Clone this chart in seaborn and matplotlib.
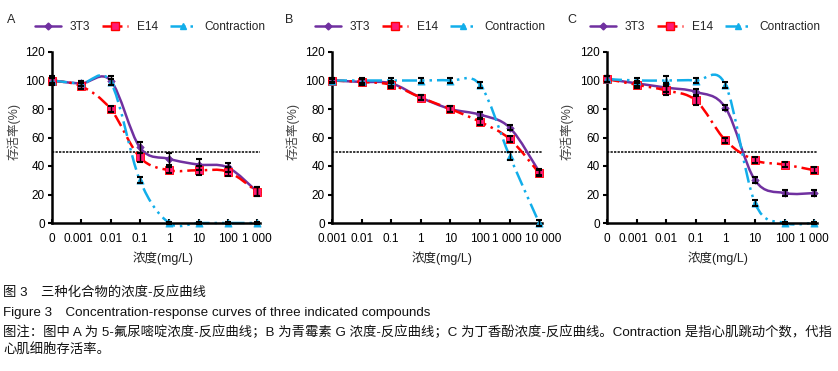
import numpy as np
import pandas as pd
import seaborn as sns
import matplotlib.pyplot as plt
from matplotlib.path import Path
from matplotlib.patches import PathPatch
from matplotlib.lines import Line2D
from matplotlib.transforms import ScaledTranslation

# =====================================
# 数据
# =====================================
series = ["3T3", "E14", "Contraction"]

# A: 5-氟尿嘧啶
ticks_A = ["0", "0.001", "0.01", "0.1", "1", "10", "100", "1 000"]
A_3T3 = [100, 98, 100, 53, 45, 41, 39, 22]
A_E14 = [100, 96, 80, 46, 37, 37, 36, 22]
A_con = [100, 98, 99, 30, 0, 0, 0, 0]
A_3T3_err = [3, 2, 3, 4, 4, 4, 3, 3]
A_E14_err = [2, 2, 2, 3, 2, 3, 3, 3]
A_con_err = [2, 2, 2, 2, 1, 1, 1, 1]

# B: 青霉素 G
ticks_B = ["0.001", "0.01", "0.1", "1", "10", "100", "1 000", "10 000"]
B_3T3 = [100, 99, 98, 88, 80, 76, 67, 36]
B_E14 = [100, 99, 97, 88, 80, 71, 59, 35]
B_con = [100, 100, 100, 100, 100, 97, 47, 0]
B_3T3_err = [2, 2, 2, 2, 2, 2, 2, 2]
B_E14_err = [2, 2, 2, 2, 2, 2, 2, 2]
B_con_err = [1, 2, 2, 2, 2, 2, 3, 2]

# C: 丁香酚
ticks_C = ["0", "0.001", "0.01", "0.1", "1", "10", "100", "1 000"]
C_3T3 = [101, 98, 95, 92, 81, 30, 21, 21]
C_E14 = [101, 97, 93, 86, 58, 44, 41, 37]
C_con = [101, 100, 100, 100, 97, 14, 0, 0]
C_3T3_err = [2, 2, 3, 2, 2, 2, 2, 2]
C_E14_err = [2, 2, 3, 3, 2, 2, 2, 2]
C_con_err = [2, 2, 3, 2, 2, 2, 1, 1]

panels = [
    ("A", ticks_A, [A_3T3, A_E14, A_con], [A_3T3_err, A_E14_err, A_con_err]),
    ("B", ticks_B, [B_3T3, B_E14, B_con], [B_3T3_err, B_E14_err, B_con_err]),
    ("C", ticks_C, [C_3T3, C_E14, C_con], [C_3T3_err, C_E14_err, C_con_err]),
]

colors = {"3T3": "#7030A0", "E14": "#FF0000", "Contraction": "#12AEEA"}
faces = {"3T3": "#7030A0", "E14": "#FF1A75", "Contraction": "#12AEEA"}
markers = {"3T3": "D", "E14": "s", "Contraction": "^"}
msizes = {"3T3": 14, "E14": 34, "Contraction": 26}
lstyles = {"3T3": "-", "E14": (0, (5, 2, 1, 2)), "Contraction": (0, (6, 2, 1, 2, 1, 2))}


def smooth_path(xs, ys):
    # Excel 风格的平滑线 (Catmull-Rom -> Bezier)
    pts = list(zip(xs, ys))
    verts, codes = [pts[0]], [Path.MOVETO]
    for i in range(len(pts) - 1):
        p0 = pts[i - 1] if i > 0 else pts[i]
        p1, p2 = pts[i], pts[i + 1]
        p3 = pts[i + 2] if i + 2 < len(pts) else pts[i + 1]
        c1 = (p1[0] + (p2[0] - p0[0]) / 6, p1[1] + (p2[1] - p0[1]) / 6)
        c2 = (p2[0] - (p3[0] - p1[0]) / 6, p2[1] - (p3[1] - p1[1]) / 6)
        verts += [c1, c2, p2]
        codes += [Path.CURVE4] * 3
    return Path(verts, codes)


sns.set_theme(style="ticks")
plt.rcParams["font.family"] = ["Liberation Sans", "Noto Sans CJK SC"]

fig = plt.figure(figsize=(8.38, 3.71), dpi=100)
W, H = 838, 371

ax_left = [52, 332, 607]
ax_unit = [29.3, 29.6, 29.6]
letter_x = [7, 285, 567]
ylab_x = [14, 293, 567]
xlab_x = [163, 442, 718]

for k, (letter, ticks, vals, errs) in enumerate(panels):
    x0 = ax_left[k]
    width = 7.1 * ax_unit[k]
    ax = fig.add_axes([x0 / W, (H - 223) / H, width / W, 171 / H])
    pos = np.arange(len(ticks))

    df = pd.DataFrame({"pos": np.tile(pos, 3),
                       "val": np.concatenate(vals),
                       "err": np.concatenate(errs),
                       "series": np.repeat(series, len(pos))})

    for name in series:
        d = df[df["series"] == name]
        patch = PathPatch(smooth_path(d["pos"].values, d["val"].values),
                          facecolor="none", edgecolor=colors[name], lw=1.8,
                          linestyle=lstyles[name], clip_on=False, zorder=2)
        ax.add_patch(patch)
        sns.scatterplot(data=d, x="pos", y="val", marker=markers[name],
                        color=faces[name], edgecolor=colors[name], linewidth=0.6,
                        s=msizes[name], ax=ax, zorder=3, clip_on=False, legend=False)
        ax.errorbar(d["pos"], d["val"], yerr=d["err"], fmt="none", ecolor="black",
                    elinewidth=1, capsize=2.5, capthick=1.5, zorder=4, clip_on=False)

    ax.axhline(50, color="black", lw=1.1, ls=(0, (1.5, 0.8)), zorder=1)

    ax.set_xlim(0, 7.1)
    ax.set_ylim(0, 120)
    ax.set_xticks(pos)
    ax.set_xticklabels(ticks)
    ax.set_yticks([0, 20, 40, 60, 80, 100, 120])
    ax.set_xlabel("")
    ax.set_ylabel("")
    ax.tick_params(axis="x", direction="in", length=3, width=1.5, pad=7,
                   labelsize=8.5, colors="black")
    ax.tick_params(axis="y", direction="out", length=3, width=1.5, pad=2,
                   labelsize=8.5, colors="black")
    sns.despine(ax=ax)
    for sp in ["left", "bottom"]:
        ax.spines[sp].set_linewidth(1.8)
        ax.spines[sp].set_color("black")

    # 拥挤的刻度标签稍微错开
    labels = ax.get_xticklabels()
    if letter == "B":
        shifts = {6: -3, 7: 4}
    else:
        shifts = {1: -3}
    for i, dx in shifts.items():
        labels[i].set_transform(labels[i].get_transform() +
                                ScaledTranslation(dx / 100, 0, fig.dpi_scale_trans))

    handles = [Line2D([0], [0], color=colors[n], lw=1.8, linestyle=lstyles[n],
                      marker=markers[n], markerfacecolor=faces[n],
                      markeredgecolor=colors[n],
                      markersize={"3T3": 3.5, "E14": 5.5, "Contraction": 5}[n])
               for n in series]
    ax.legend(handles, series, loc="center left", ncol=3, frameon=False,
              bbox_to_anchor=((x0 - 22) / W, (H - 27) / H),
              bbox_transform=fig.transFigure, fontsize=8.6, handlelength=2.2,
              handletextpad=0.7, columnspacing=1.0, borderaxespad=0)

    fig.text(letter_x[k] / W, (H - 20) / H, letter, fontsize=9, ha="left", va="center")
    fig.text(ylab_x[k] / W, (H - 131) / H, "存活率(%)", fontsize=9, rotation=90,
             ha="center", va="center", color="#444444")
    fig.text(xlab_x[k] / W, (H - 258) / H, "浓度(mg/L)", fontsize=9,
             ha="center", va="center", color="#222222")

# 图注
cap = ["图 3　三种化合物的浓度-反应曲线",
       "Figure 3　Concentration-response curves of three indicated compounds",
       "图注：图中 A 为 5-氟尿嘧啶浓度-反应曲线；B 为青霉素 G 浓度-反应曲线；C 为丁香酚浓度-反应曲线。Contraction 是指心肌跳动个数，代指",
       "心肌细胞存活率。"]
for y, t in zip([293, 313, 332, 350], cap):
    fig.text(3 / W, (H - y) / H, t, fontsize=9.6, ha="left", va="center",
             color="#111111")

fig.savefig("out.png", dpi=100)
